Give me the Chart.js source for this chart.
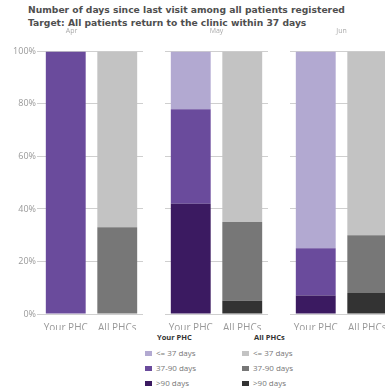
<!DOCTYPE html>
<html>
<head>
<meta charset="utf-8">
<script src="https://cdn.jsdelivr.net/npm/chart.js@4/dist/chart.umd.min.js"></script>
<style>
  body { margin: 0; width: 385px; height: 388px; overflow: hidden; background: #fff; position: relative; font-family: "Open Sans", sans-serif; }
  #title { position: absolute; left: 28px; top: 4px; font: bold 9.2px "DejaVu Sans", sans-serif; line-height: 12.5px; color: #4f4f4f; white-space: nowrap; }
  .panel { position: absolute; top: 26px; height: 304px; width: 103px; }
  .panel canvas { display: block; }
  .legend { position: absolute; top: 331px; font-size: 8px; color: #777; }
  .legend .head { font-weight: bold; color: #333; margin-left: 12px; height: 14px; line-height: 12px; font-size: 7.5px; }
  .legend .item { height: 15px; line-height: 15px; white-space: nowrap; }
  .legend .sw { display: inline-block; width: 7px; height: 5px; margin-right: 4px; vertical-align: middle; }
</style>
</head>
<body>
<div id="title">Number of days since last visit among all patients registered<br>Target: All patients return to the clinic within 37 days</div>
<div class="panel" id="p0" style="left:0;width:143px"><canvas id="c0"></canvas></div>
<div class="panel" id="p1" style="left:165px"><canvas id="c1"></canvas></div>
<div class="panel" id="p2" style="left:290px"><canvas id="c2"></canvas></div>
<div class="legend" id="legYour" style="left:145px"></div>
<div class="legend" id="legAll" style="left:242px"></div>
<script>
const months = ['Apr', 'May', 'Jun'];
const groups = ['Your PHC', 'All PHCs'];
const buckets = ['<= 37 days', '37-90 days', '>90 days'];

// percent of patients per month, one array per bucket
const yourUnder37 = [0, 22, 75];
const your37to90 = [100, 36, 18];
const yourOver90 = [0, 42, 7];
const allUnder37 = [67, 65, 70];
const all37to90 = [33, 30, 22];
const allOver90 = [0, 5, 8];

const yTicks = [0, 20, 40, 60, 80, 100];

const yourColors = ['#b2a9d1', '#6a4b9c', '#3b1a61'];
const allColors = ['#c3c3c3', '#777777', '#333333'];

const yourSeries = [yourUnder37, your37to90, yourOver90];
const allSeries = [allUnder37, all37to90, allOver90];

function datasetsFor(m) {
  const out = [];
  // stack from the bottom: >90, 37-90, <=37
  for (let b = buckets.length - 1; b >= 0; b--) {
    out.push({ label: 'Your PHC ' + buckets[b], data: [yourSeries[b][m], null], backgroundColor: yourColors[b] });
    out.push({ label: 'All PHCs ' + buckets[b], data: [null, allSeries[b][m]], backgroundColor: allColors[b] });
  }
  return out;
}

months.forEach((month, m) => {
  const first = m === 0;
  const w = first ? 143 : 103;
  const cv = document.getElementById('c' + m);
  cv.width = w; cv.height = 304;
  cv.style.width = w + 'px'; cv.style.height = '304px';
  new Chart(cv, {
    type: 'bar',
    data: { labels: groups, datasets: datasetsFor(m) },
    options: {
      responsive: false,
      animation: false,
      layout: { padding: 0, autoPadding: false },
      datasets: { bar: { barPercentage: 0.9, categoryPercentage: 0.86, borderWidth: 0 } },
      plugins: {
        legend: { display: false },
        tooltip: { enabled: false },
        title: {
          display: true, text: month, color: '#aaa',
          font: { family: '"Open Sans", sans-serif', size: 7, weight: 'normal' },
          lineHeight: 1,
          padding: { top: 1, bottom: 16 }
        }
      },
      scales: {
        x: {
          stacked: true,
          grid: { display: false },
          border: { display: false },
          ticks: { color: '#999', font: { family: '"Open Sans", sans-serif', size: 10 }, padding: 0, maxRotation: 0 },
          afterFit: s => { s.height = 16; }
        },
        y: {
          stacked: true,
          min: 0, max: 100,
          afterBuildTicks: s => { s.ticks = yTicks.map(v => ({ value: v })); },
          grid: { color: '#cfcfcf', lineWidth: 1, drawTicks: first, tickLength: 3 },
          border: { display: false },
          ticks: { display: first, color: '#999', font: { family: '"Open Sans", sans-serif', size: 9 }, padding: 1, callback: v => v + '%' },
          afterFit: s => { s.width = first ? 40 : 0; }
        }
      }
    }
  });
});

function buildLegend(id, title, colors) {
  const el = document.getElementById(id);
  let html = '<div class="head">' + title + '</div>';
  buckets.forEach((b, i) => {
    html += '<div class="item"><span class="sw" style="background:' + colors[i] + '"></span>' +
      b.replace('<', '&lt;').replace('>', '&gt;') + '</div>';
  });
  el.innerHTML = html;
}
buildLegend('legYour', groups[0], yourColors);
buildLegend('legAll', groups[1], allColors);
</script>
</body>
</html>
